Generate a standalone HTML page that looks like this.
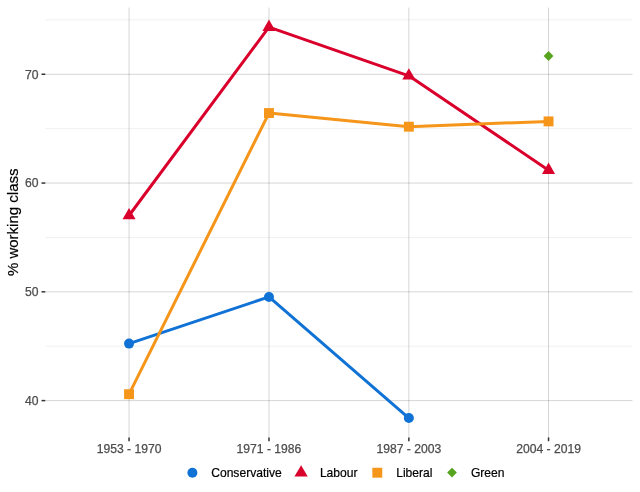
<!DOCTYPE html>
<html lang="en"><head><meta charset="utf-8"><title>% working class by party</title>
<style>
html,body{margin:0;padding:0;background:#fff;}
body{width:640px;height:492px;overflow:hidden;}
svg{display:block;font-family:"Liberation Sans",Arial,Helvetica,sans-serif;}
.ax{font-size:12.15px;fill:#4d4d4d;stroke:#4d4d4d;stroke-width:0.25px;}
.lg{font-size:12.1px;fill:#000;stroke:#000;stroke-width:0.2px;}
.ti{font-size:15px;fill:#000;stroke:#000;stroke-width:0.2px;}
</style></head><body>
<svg width="640" height="492" viewBox="0 0 640 492">
<rect width="640" height="492" fill="#fff"/>

<line x1="45.3" x2="632.5" y1="19.88" y2="19.88" stroke="rgba(0,0,0,0.06)" stroke-width="1"/>
<line x1="45.3" x2="632.5" y1="128.66" y2="128.66" stroke="rgba(0,0,0,0.06)" stroke-width="1"/>
<line x1="45.3" x2="632.5" y1="237.44" y2="237.44" stroke="rgba(0,0,0,0.06)" stroke-width="1"/>
<line x1="45.3" x2="632.5" y1="346.22" y2="346.22" stroke="rgba(0,0,0,0.06)" stroke-width="1"/>
<line x1="45.3" x2="632.5" y1="74.27" y2="74.27" stroke="rgba(0,0,0,0.165)" stroke-width="1"/>
<line x1="45.3" x2="632.5" y1="183.05" y2="183.05" stroke="rgba(0,0,0,0.165)" stroke-width="1"/>
<line x1="45.3" x2="632.5" y1="291.83" y2="291.83" stroke="rgba(0,0,0,0.165)" stroke-width="1"/>
<line x1="45.3" x2="632.5" y1="400.61" y2="400.61" stroke="rgba(0,0,0,0.165)" stroke-width="1"/>
<line x1="129.05" x2="129.05" y1="7.6" y2="437.4" stroke="rgba(0,0,0,0.165)" stroke-width="1"/>
<line x1="268.97" x2="268.97" y1="7.6" y2="437.4" stroke="rgba(0,0,0,0.165)" stroke-width="1"/>
<line x1="408.85" x2="408.85" y1="7.6" y2="437.4" stroke="rgba(0,0,0,0.165)" stroke-width="1"/>
<line x1="548.55" x2="548.55" y1="7.6" y2="437.4" stroke="rgba(0,0,0,0.165)" stroke-width="1"/>
<line x1="41.5" x2="45.3" y1="74.27" y2="74.27" stroke="#333" stroke-width="1.5"/>
<text class="ax" x="38.4" y="78.67" text-anchor="end">70</text>
<line x1="41.5" x2="45.3" y1="183.05" y2="183.05" stroke="#333" stroke-width="1.5"/>
<text class="ax" x="38.4" y="187.45" text-anchor="end">60</text>
<line x1="41.5" x2="45.3" y1="291.83" y2="291.83" stroke="#333" stroke-width="1.5"/>
<text class="ax" x="38.4" y="296.23" text-anchor="end">50</text>
<line x1="41.5" x2="45.3" y1="400.61" y2="400.61" stroke="#333" stroke-width="1.5"/>
<text class="ax" x="38.4" y="405.01" text-anchor="end">40</text>
<line x1="129.05" x2="129.05" y1="437.4" y2="441.2" stroke="#333" stroke-width="1.5"/>
<text class="ax" x="129.05" y="453.3" text-anchor="middle">1953 - 1970</text>
<line x1="268.97" x2="268.97" y1="437.4" y2="441.2" stroke="#333" stroke-width="1.5"/>
<text class="ax" x="268.97" y="453.3" text-anchor="middle">1971 - 1986</text>
<line x1="408.85" x2="408.85" y1="437.4" y2="441.2" stroke="#333" stroke-width="1.5"/>
<text class="ax" x="408.85" y="453.3" text-anchor="middle">1987 - 2003</text>
<line x1="548.55" x2="548.55" y1="437.4" y2="441.2" stroke="#333" stroke-width="1.5"/>
<text class="ax" x="548.55" y="453.3" text-anchor="middle">2004 - 2019</text>
<text class="ti" transform="translate(18.3,222.3) rotate(-90)" text-anchor="middle">% working class</text>
<polyline fill="none" stroke="#1072D5" stroke-width="3" stroke-linejoin="round" stroke-linecap="butt" points="129.05,343.60 268.97,296.94 408.85,418.08"/>
<polyline fill="none" stroke="#D9002C" stroke-width="3" stroke-linejoin="round" stroke-linecap="butt" points="129.05,215.50 268.97,27.10 408.85,75.80 548.55,170.14"/>
<polyline fill="none" stroke="#F59519" stroke-width="3" stroke-linejoin="round" stroke-linecap="butt" points="129.05,394.20 268.97,113.05 408.85,126.68 548.55,121.40"/>
<circle fill="#1072D5" cx="129.05" cy="343.60" r="5.0"/>
<circle fill="#1072D5" cx="268.97" cy="296.94" r="5.0"/>
<circle fill="#1072D5" cx="408.85" cy="418.08" r="5.0"/>
<polygon fill="#D9002C" points="129.05,207.95 135.59,219.28 122.51,219.28"/>
<polygon fill="#D9002C" points="268.97,19.55 275.51,30.88 262.43,30.88"/>
<polygon fill="#D9002C" points="408.85,68.25 415.39,79.58 402.31,79.58"/>
<polygon fill="#D9002C" points="548.55,162.59 555.09,173.91 542.01,173.91"/>
<rect fill="#F59519" x="124.10" y="389.25" width="9.90" height="9.90"/>
<rect fill="#F59519" x="264.02" y="108.10" width="9.90" height="9.90"/>
<rect fill="#F59519" x="403.90" y="121.73" width="9.90" height="9.90"/>
<rect fill="#F59519" x="543.60" y="116.45" width="9.90" height="9.90"/>
<polygon fill="#57A51E" points="548.55,51.10 553.45,56.00 548.55,60.90 543.65,56.00"/>
<circle fill="#1072D5" cx="192.40" cy="472.70" r="5.0"/>
<text class="lg" x="211.2" y="477.1">Conservative</text>
<polygon fill="#D9002C" points="301.10,465.15 307.73,476.62 294.47,476.62"/>
<text class="lg" x="319.9" y="477.1">Labour</text>
<rect fill="#F59519" x="372.35" y="467.75" width="9.90" height="9.90"/>
<text class="lg" x="396.2" y="477.1">Liberal</text>
<polygon fill="#57A51E" points="452.00,467.74 456.88,472.62 452.00,477.50 447.12,472.62"/>
<text class="lg" x="470.9" y="477.1">Green</text>
</svg></body></html>
